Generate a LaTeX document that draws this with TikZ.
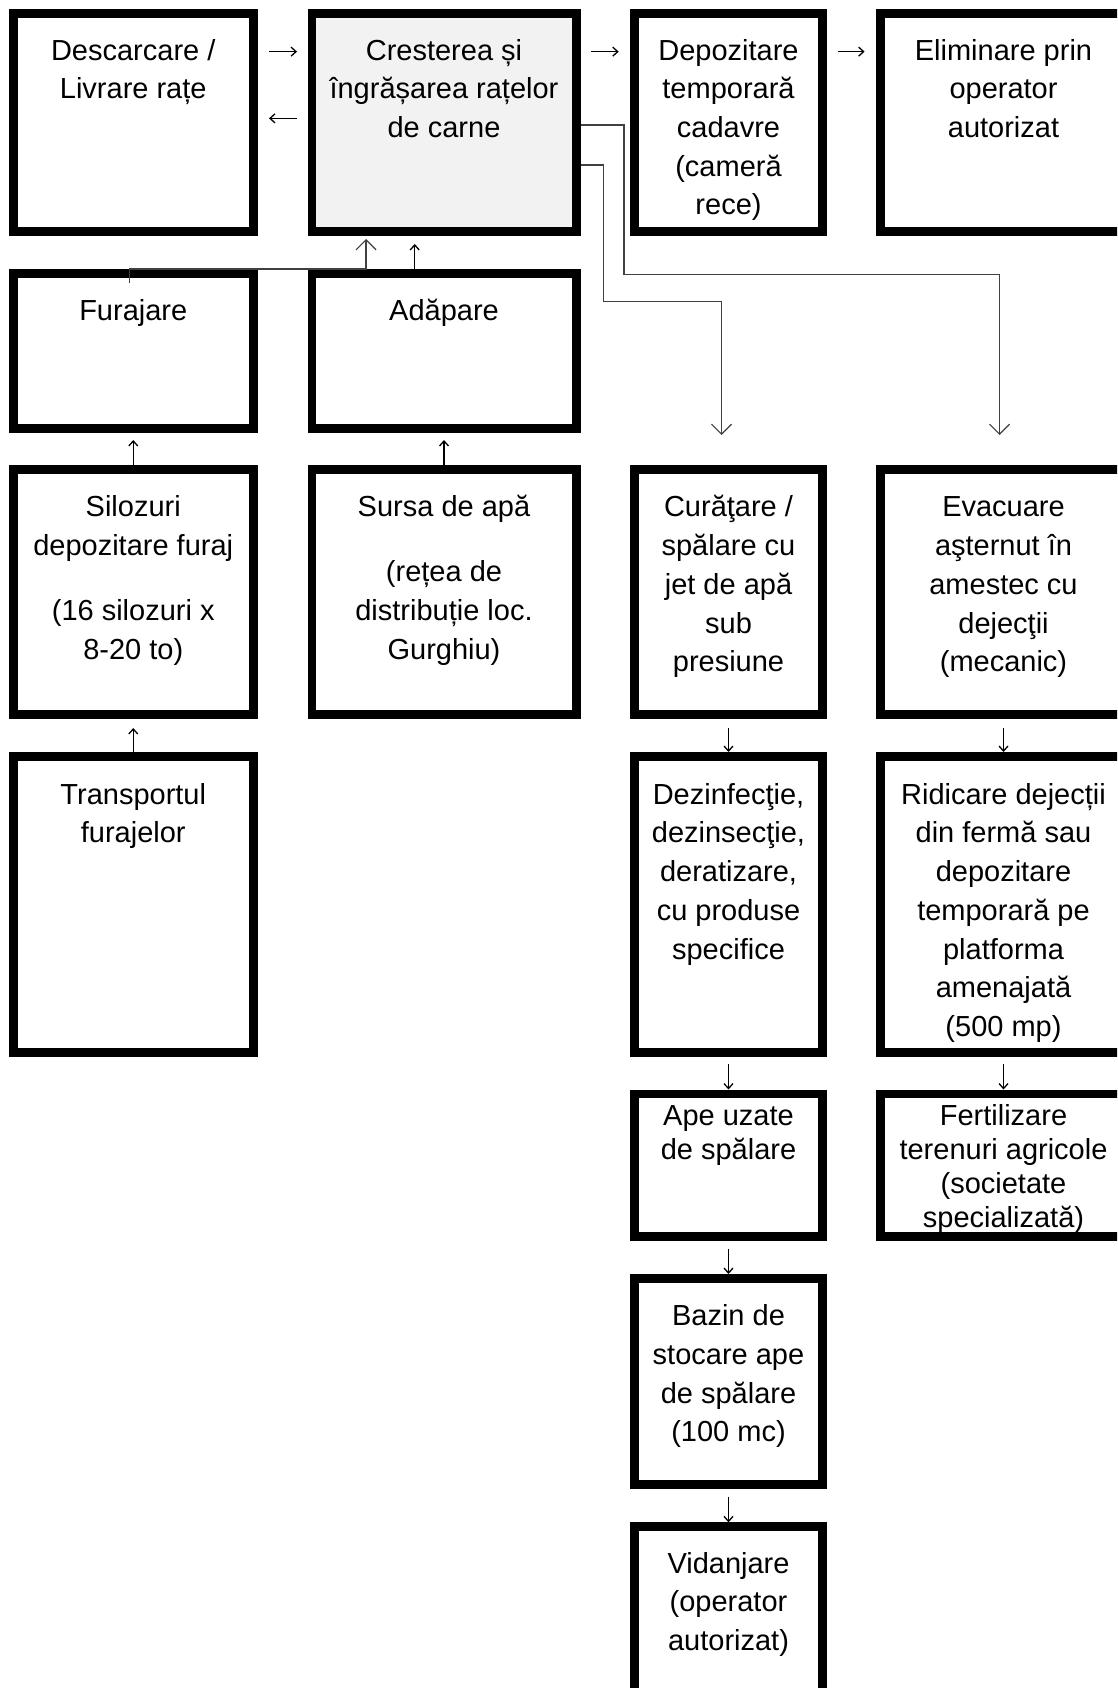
\documentclass[tikz,border=0pt]{standalone}
\usepackage{fontspec}
\setmainfont{Liberation Sans}
\usetikzlibrary{arrows.meta}
\definecolor{lightfill}{RGB}{242,242,242}
\definecolor{connline}{RGB}{64,64,64}
\tikzset{
  box/.style={draw=black, line width=8.8pt, inner sep=0pt},
  c1/.style={minimum width=239.7pt},
  c2/.style={minimum width=264.2pt},
  c3/.style={minimum width=188.2pt},
  c4/.style={minimum width=246.2pt},
  r1/.style={minimum height=217.9pt},
  r2/.style={minimum height=154.9pt},
  r3/.style={minimum height=245.2pt},
  r4/.style={minimum height=295.7pt},
  r5/.style={minimum height=142.2pt},
  r6/.style={minimum height=205.9pt},
  r7/.style={minimum height=218.9pt},
  txt/.style={font=\fontsize{29}{38.7}\selectfont, align=center, inner sep=0pt, anchor=north},
  txtt/.style={font=\fontsize{29}{34}\selectfont, align=center, inner sep=0pt, anchor=north},
  garrow/.style={draw=black, line width=1.3pt, -{Straight Barb[length=5pt,width=9pt]}},
  conn/.style={draw=connline, line width=1.2pt, -{Straight Barb[length=10pt,width=20pt]}}
}
\begin{document}
\begin{tikzpicture}[x=1pt,y=-1pt]
\useasboundingbox (0,0) rectangle (1117,1688);
\fill[white] (0,0) rectangle (1117,1688);
\clip (0,0) rectangle (1117,1688);

% boxes
\node[box,c1,r1] (des) at (133.25,122.35) {};
\node[box,c2,r1,fill=lightfill] (cre) at (444,122.35) {};
\node[box,c3,r1] (dep) at (728.5,122.35) {};
\node[box,c4,r1] (eli) at (1003.5,122.35) {};
\node[box,c1,r2] (fur) at (133.25,350.85) {};
\node[box,c2,r2] (ada) at (444,350.85) {};
\node[box,c1,r3] (sil) at (133.25,592) {};
\node[box,c2,r3] (sur) at (444,592) {};
\node[box,c3,r3] (cur) at (728.5,592) {};
\node[box,c4,r3] (eva) at (1003.5,592) {};
\node[box,c1,r4] (tra) at (133.25,904.25) {};
\node[box,c3,r4] (dez) at (728.5,904.25) {};
\node[box,c4,r4] (rid) at (1003.5,904.25) {};
\node[box,c3,r5] (ape) at (728.5,1165) {};
\node[box,c4,r5] (fer) at (1003.5,1165) {};
\node[box,c3,r6] (baz) at (728.5,1381.35) {};
\node[box,c3,r7] (vid) at (728.5,1636.15) {};

% texts
\node[txt] (tdes) at (133.25,32.91) {\strut Descarcare /\\\strut Livrare rațe};
\node[txt] (tcre) at (444,32.91) {\strut Cresterea și\\\strut îngrășarea rațelor\\\strut de carne};
\node[txt] (tdep) at (728.5,32.91) {\strut Depozitare\\\strut temporară\\\strut cadavre\\\strut (cameră\\\strut rece)};
\node[txt] (teli) at (1003.5,32.91) {\strut Eliminare prin\\\strut operator\\\strut autorizat};
\node[txt] (tfur) at (133.25,293.41) {\strut Furajare};
\node[txt] (tada) at (444,293.41) {\strut Adăpare};
\node[txt] (tsil) at (133.25,489.61) {\strut Silozuri\\\strut depozitare furaj\\[26pt]\strut (16 silozuri x\\\strut 8-20 to)};
\node[txt] (tsur) at (444,489.61) {\strut Sursa de apă\\[26pt]\strut (rețea de\\\strut distribuție loc.\\\strut Gurghiu)};
\node[txt] (tcur) at (728.5,489.61) {\strut Curăţare /\\\strut spălare cu\\\strut jet de apă\\\strut sub\\\strut presiune};
\node[txt] (teva) at (1003.5,489.61) {\strut Evacuare\\\strut aşternut în\\\strut amestec cu\\\strut dejecţii\\\strut (mecanic)};
\node[txt] (ttra) at (133.25,776.91) {\strut Transportul\\\strut furajelor};
\node[txt] (tdez) at (728.5,776.91) {\strut Dezinfecţie,\\\strut dezinsecţie,\\\strut deratizare,\\\strut cu produse\\\strut specifice};
\node[txt] (trid) at (1003.5,776.91) {\strut Ridicare dejecții\\\strut din fermă sau\\\strut depozitare\\\strut temporară pe\\\strut platforma\\\strut amenajată\\\strut (500 mp)};
\node[txtt] (tape) at (728.5,1101.7) {\strut Ape uzate\\\strut de spălare};
\node[txtt] (tfer) at (1003.5,1101.7) {\strut Fertilizare\\\strut terenuri agricole\\\strut (societate\\\strut specializată)};
\node[txt] (tbaz) at (728.5,1298.41) {\strut Bazin de\\\strut stocare ape\\\strut de spălare\\\strut (100 mc)};
\node[txt] (tvid) at (728.5,1545.91) {\strut Vidanjare\\\strut (operator\\\strut autorizat)};

% short arrows (row 1)
\draw[garrow] ([xshift=11.5pt,yshift=70.7pt]des.east) -- ([xshift=-10.5pt,yshift=70.7pt]cre.west);
\draw[garrow] ([xshift=-10.5pt,yshift=4pt]cre.west) -- ([xshift=11.5pt,yshift=4pt]des.east);
\draw[garrow] ([xshift=10.4pt,yshift=70.7pt]cre.east) -- ([xshift=-11.3pt,yshift=70.7pt]dep.west);
\draw[garrow] ([xshift=10.5pt,yshift=70.7pt]dep.east) -- ([xshift=-11.4pt,yshift=70.7pt]eli.west);

% short vertical arrows
\draw[garrow] (sil.north) -- ([yshift=-7.3pt]fur.south);
\draw[garrow] (sur.north) -- ([yshift=-7.3pt]ada.south);
\draw[garrow] (tra.north) -- ([yshift=-9pt]sil.south);
\draw[garrow] ([yshift=-9pt]cur.south) -- (dez.north);
\draw[garrow] ([yshift=-9pt]eva.south) -- (rid.north);
\draw[garrow] ([yshift=-7pt]dez.south) -- (ape.north);
\draw[garrow] ([yshift=-7pt]rid.south) -- (fer.north);
\draw[garrow] ([yshift=-8.5pt]ape.south) -- (baz.north);
\draw[garrow] ([yshift=-8pt]baz.south) -- (vid.north);
\draw[garrow] ([xshift=-29.3pt]ada.north) -- ([xshift=-29.3pt,yshift=-8.3pt]cre.south);

% long connectors
\coordinate (fs) at ([xshift=-3.75pt,yshift=-14pt]fur.north);
\draw[conn] (fs) -- (fs |- fur.north) -| ([xshift=-78pt,yshift=-3.3pt]cre.south);
\coordinate (e2) at ([xshift=-7pt,yshift=30pt]cur.north);
\draw[conn] ([yshift=-42.65pt]cre.east) -| (603.5,301.7) -| (e2);
\coordinate (e1) at ([xshift=-4pt,yshift=30pt]eva.north);
\draw[conn] ([yshift=-2.65pt]cre.east) -| (624,274.3) -| (e1);
\end{tikzpicture}
\end{document}
